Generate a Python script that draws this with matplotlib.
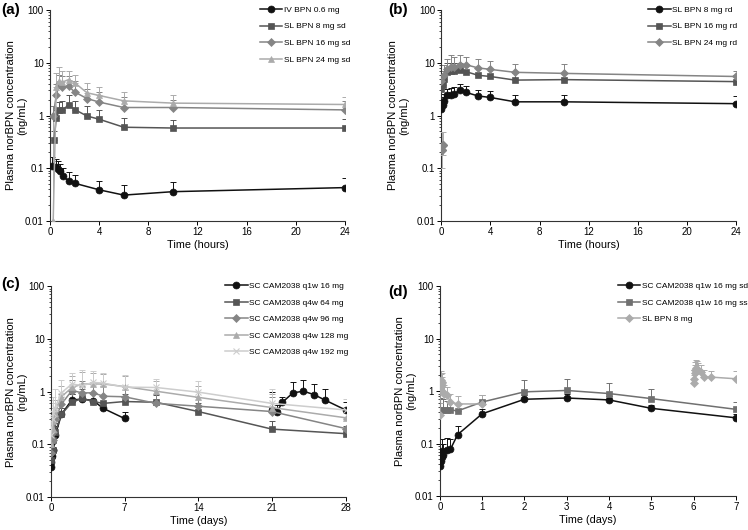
import numpy as np
import matplotlib
matplotlib.use("Agg")
import matplotlib.pyplot as plt
from matplotlib.ticker import FixedLocator, NullFormatter, LogLocator

plt.rcParams['font.family'] = ['Liberation Sans', 'DejaVu Sans']
nan = np.nan

# ---------------- panel (a): single dose, hours ----------------
t_iv = [0.13, 0.48, 0.67, 0.8, 1.07, 1.5, 2, 4, 6, 10, 24]
iv_06 = [0.11, 0.107, 0.095, 0.088, 0.071, 0.057, 0.052, 0.039, 0.031, 0.036, 0.043]
iv_06_up = [0.165, 0.15, 0.135, 0.12, 0.1, 0.085, 0.075, 0.058, 0.048, 0.055, 0.064]

t_sl = [0.33, 0.5, 0.75, 1, 1.5, 2, 3, 4, 6, 10, 24]
sl8_sd = [0.35, 0.9, 1.25, 1.25, 1.6, 1.3, 0.98, 0.85, 0.6, 0.58, 0.58]
sl8_sd_up = [0.5, 1.3, 1.8, 1.9, 2.4, 1.9, 1.5, 1.3, 0.88, 0.82, 0.85]
t_sl16 = [0.25, 0.5, 0.75, 1, 1.5, 2, 3, 4, 6, 10, 24]
sl16_sd = [1.0, 2.4, 4.0, 3.5, 3.6, 2.8, 2.1, 1.8, 1.42, 1.42, 1.28]
sl16_sd_up = [1.5, 4.0, 6.0, 5.5, 5.5, 4.5, 3.2, 2.8, 2.2, 2.0, 1.9]
t_sl24 = [0.25, 0.5, 0.75, 1, 1.5, 2, 3, 4, 6, 10, 24]
sl24_sd = [0.01, 3.5, 4.5, 4.3, 4.8, 4.2, 2.7, 2.4, 1.9, 1.72, 1.62]
sl24_sd_up = [1.0, 6.5, 8.2, 7.0, 7.0, 6.0, 4.2, 3.5, 2.8, 2.5, 2.2]

# ---------------- panel (b): repeated dose, hours ----------------
t_rd = [0, 0.1, 0.25, 0.5, 0.75, 1, 1.5, 2, 3, 4, 6, 10, 24]
sl8_rd = [1.35, 1.6, 1.9, 2.4, 2.5, 2.55, 3.0, 2.75, 2.35, 2.2, 1.82, 1.82, 1.68]
sl8_rd_up = [1.8, 2.2, 2.6, 3.2, 3.4, 3.5, 4.0, 3.6, 3.0, 2.9, 2.4, 2.4, 2.3]
sl16_rd = [3.2, 3.8, 5.0, 6.6, 7.0, 7.0, 7.3, 6.8, 5.8, 5.5, 4.7, 4.8, 4.4]
sl16_rd_up = [4.5, 5.5, 7.0, 10, 10, 10, 10, 9.5, 8.0, 7.5, 6.5, 6.5, 5.8]
t_rd24 = [0, 0.25, 0.5, 0.75, 1, 1.5, 2, 3, 4, 6, 10, 24]
sl24_rd = [4.5, 5.8, 7.5, 8.5, 8.5, 9.2, 9.2, 8.0, 7.5, 6.6, 6.3, 5.5]
sl24_rd_up = [7.0, 9.0, 12, 14, 13, 14, 13, 12, 11, 9.5, 9.5, 7.0]
t_rd24_low = [0.05, 0.12]
sl24_rd_low = [0.22, 0.28]
sl24_rd_low_dn = [0.12, 0.1]
sl24_rd_low_up = [0.26, 0.2]

# ---------------- panel (c): CAM2038, days ----------------
t_q1w = [0, 0.02, 0.04, 0.06, 0.08, 0.17, 0.25, 0.42, 1, 2, 3, 4, 5, 7, nan,
         21, 21.5, 22, 23, 24, 25, 26, 28]
q1w_16 = [0.038, 0.047, 0.055, 0.072, 0.06, 0.077, 0.078, 0.148, 0.37, 0.7, 0.72, 0.68, 0.48, 0.31, nan,
          0.45, 0.42, 0.63, 0.95, 1.02, 0.88, 0.7, 0.45]
q1w_16_up = [0.06, 0.08, 0.1, 0.12, 0.1, 0.13, 0.12, 0.22, 0.5, 0.9, 0.95, 0.9, 0.62, 0.42, nan,
             1.0, 0.55, 0.8, 1.55, 1.65, 1.4, 1.1, 0.65]
t_q4w = [0, 0.17, 0.25, 0.42, 1, 2, 3, 4, 5, 7, 10, 14, 21, 28]
q4w_64 = [0.05, 0.08, 0.12, 0.17, 0.37, 0.63, 0.75, 0.65, 0.6, 0.65, 0.63, 0.42, 0.195, 0.16]
q4w_64_up = [0.08, 0.12, 0.18, 0.25, 0.5, 0.9, 1.1, 0.95, 0.85, 0.9, 0.85, 0.6, 0.28, 0.22]
q4w_96 = [0.07, 0.12, 0.17, 0.3, 0.58, 1.05, 0.95, 0.95, 0.82, 0.8, 0.6, 0.53, 0.42, 0.2]
q4w_96_up = [0.12, 0.2, 0.3, 0.5, 0.9, 1.7, 1.6, 1.5, 1.3, 1.2, 0.9, 0.8, 0.8, 0.3]
q4w_128 = [0.1, 0.2, 0.28, 0.4, 0.8, 1.2, 1.4, 1.4, 1.4, 1.25, 1.02, 0.78, 0.5, 0.32]
q4w_128_up = [0.18, 0.35, 0.5, 0.7, 1.3, 2.0, 2.4, 2.3, 2.2, 2.0, 1.6, 1.3, 0.9, 0.5]
q4w_192 = [0.15, 0.3, 0.4, 0.5, 0.95, 1.4, 1.3, 1.5, 1.45, 1.22, 1.2, 0.98, 0.6, 0.45]
q4w_192_up = [0.3, 0.6, 0.8, 1.1, 1.7, 2.3, 2.6, 2.5, 2.3, 2.1, 1.75, 1.6, 1.1, 0.72]

# ---------------- panel (d): week 1 comparison, days ----------------
t_sd = [0, 0.02, 0.04, 0.06, 0.08, 0.17, 0.25, 0.42, 1, 2, 3, 4, 5, 7]
cam_sd = [0.038, 0.047, 0.055, 0.072, 0.06, 0.077, 0.078, 0.148, 0.37, 0.7, 0.74, 0.68, 0.47, 0.31]
cam_sd_up = [0.06, 0.08, 0.1, 0.12, 0.1, 0.13, 0.12, 0.22, 0.45, 0.85, 0.9, 0.8, 0.55, 0.36]
t_ss = [0, 0.08, 0.17, 0.25, 0.42, 1, 2, 3, 4, 5, 7]
cam_ss = [0.43, 0.44, 0.44, 0.44, 0.42, 0.62, 0.97, 1.03, 0.9, 0.72, 0.45]
cam_ss_up = [0.75, 0.7, 0.65, 0.62, 0.58, 0.85, 1.6, 1.7, 1.45, 1.1, 0.63]
t_sl8 = [0, 0.01, 0.02, 0.03, 0.04, 0.06, 0.08, 0.1, 0.17, 0.25, 0.42, 1, nan,
         6.0, 6.01, 6.02, 6.04, 6.06, 6.08, 6.1, 6.17, 6.25, 6.42, 7]
sl8 = [0.35, 1.2, 1.4, 1.6, 1.5, 1.3, 0.95, 0.9, 0.85, 0.62, 0.57, 0.57, nan,
       1.4, 1.7, 2.2, 2.5, 2.8, 2.7, 2.5, 2.3, 1.85, 1.85, 1.72]
sl8_up = [0.6, 1.8, 2.1, 2.4, 2.2, 1.9, 1.4, 1.3, 1.2, 0.9, 0.8, 0.85, nan,
          2.0, 2.5, 3.2, 3.6, 3.9, 3.8, 3.5, 3.2, 2.5, 2.4, 2.4]

c_black = '#111111'
c_dark = '#555555'
c_mid = '#858585'
c_light = '#ababab'
c_xlight = '#cdcdcd'


def series(ax, t, y, up, color, marker, label, ms=5):
    y = np.array(y, dtype=float)
    up = np.array(up, dtype=float)
    err = np.clip(up - y, 0, None)
    ax.errorbar(t, y, yerr=[np.zeros_like(err), err], fmt='none', ecolor=color,
                elinewidth=0.7, capsize=2.2, capthick=0.7, zorder=2)
    ax.plot(t, y, color=color, marker=marker, ms=ms, lw=1.1, label=label,
            markeredgecolor=color, markeredgewidth=0.8 if marker == 'x' else 0.5, zorder=3)


def style(ax, xmax, xticks, xlabel, leg_x, ylab_x):
    ax.set_yscale('log')
    ax.set_ylim(0.01, 100)
    ax.set_xlim(0, xmax)
    ax.yaxis.set_major_locator(FixedLocator([0.01, 0.1, 1, 10, 100]))
    ax.set_yticklabels(['0.01', '0.1', '1', '10', '100'])
    ax.yaxis.set_minor_locator(LogLocator(base=10, subs=np.arange(2, 10)))
    ax.yaxis.set_minor_formatter(NullFormatter())
    ax.set_xticks(xticks)
    for s in ['top', 'right']:
        ax.spines[s].set_visible(False)
    for s in ['left', 'bottom']:
        ax.spines[s].set_linewidth(0.8)
        ax.spines[s].set_color('#333333')
    ax.tick_params(axis='both', which='major', labelsize=7, length=3, width=0.7, direction='out', pad=1.5)
    ax.tick_params(axis='y', which='minor', length=1.5, width=0.5)
    ax.set_xlabel(xlabel, fontsize=7.8, labelpad=2)
    ax.set_ylabel('Plasma norBPN concentration\n(ng/mL)', fontsize=8, linespacing=1.15)
    ax.yaxis.set_label_coords(ylab_x, 0.5)
    ax.legend(loc='upper left', bbox_to_anchor=(leg_x, 1.035), frameon=False, fontsize=6.0,
              handlelength=2.7, handletextpad=0.2, labelspacing=1.05, borderaxespad=0)


fig = plt.figure(figsize=(7.48, 5.30), dpi=100)
axa = fig.add_axes([0.067, 0.583, 0.394, 0.398])
axb = fig.add_axes([0.590, 0.583, 0.394, 0.398])
axc = fig.add_axes([0.068, 0.062, 0.394, 0.398])
axd = fig.add_axes([0.588, 0.064, 0.396, 0.396])

# (a)
series(axa, t_iv, iv_06, iv_06_up, c_black, 'o', 'IV BPN 0.6 mg')
series(axa, t_sl, sl8_sd, sl8_sd_up, c_dark, 's', 'SL BPN 8 mg sd')
series(axa, t_sl16, sl16_sd, sl16_sd_up, c_mid, 'D', 'SL BPN 16 mg sd', ms=4.5)
series(axa, t_sl24, sl24_sd, sl24_sd_up, c_light, '^', 'SL BPN 24 mg sd', ms=4.5)
style(axa, 24, [0, 4, 8, 12, 16, 20, 24], 'Time (hours)', 0.70, -0.078)

# (b)
series(axb, t_rd, sl8_rd, sl8_rd_up, c_black, 'o', 'SL BPN 8 mg rd')
series(axb, t_rd, sl16_rd, sl16_rd_up, c_dark, 's', 'SL BPN 16 mg rd')
series(axb, t_rd24, sl24_rd, sl24_rd_up, c_mid, 'D', 'SL BPN 24 mg rd', ms=4.5)
axb.errorbar(t_rd24_low, sl24_rd_low, yerr=[sl24_rd_low_dn, sl24_rd_low_up], fmt='D', ms=4.5,
             color=c_mid, ecolor=c_light, elinewidth=0.7, capsize=2, capthick=0.7, zorder=3)
style(axb, 24, [0, 4, 8, 12, 16, 20, 24], 'Time (hours)', 0.69, -0.108)

# (c)
series(axc, t_q1w, q1w_16, q1w_16_up, c_black, 'o', 'SC CAM2038 q1w 16 mg')
series(axc, t_q4w, q4w_64, q4w_64_up, c_dark, 's', 'SC CAM2038 q4w 64 mg')
series(axc, t_q4w, q4w_96, q4w_96_up, c_mid, 'D', 'SC CAM2038 q4w 96 mg', ms=4.5)
series(axc, t_q4w, q4w_128, q4w_128_up, c_light, '^', 'SC CAM2038 q4w 128 mg', ms=4.5)
series(axc, t_q4w, q4w_192, q4w_192_up, c_xlight, 'x', 'SC CAM2038 q4w 192 mg', ms=4.5)
style(axc, 28, [0, 7, 14, 21, 28], 'Time (days)', 0.58, -0.081)

# (d)
series(axd, t_sd, cam_sd, cam_sd_up, c_black, 'o', 'SC CAM2038 q1w 16 mg sd')
series(axd, t_ss, cam_ss, cam_ss_up, '#707070', 's', 'SC CAM2038 q1w 16 mg ss')
series(axd, t_sl8, sl8, sl8_up, c_light, 'D', 'SL BPN 8 mg', ms=4.5)
style(axd, 7, [0, 1, 2, 3, 4, 5, 6, 7], 'Time (days)', 0.59, -0.081)

fig.text(0.002, 0.995, '(a)', fontsize=11, weight='bold', va='top')
fig.text(0.519, 0.995, '(b)', fontsize=11, weight='bold', va='top')
fig.text(0.002, 0.478, '(c)', fontsize=11, weight='bold', va='top')
fig.text(0.519, 0.463, '(d)', fontsize=11, weight='bold', va='top')

fig.savefig('out.png', dpi=100)
